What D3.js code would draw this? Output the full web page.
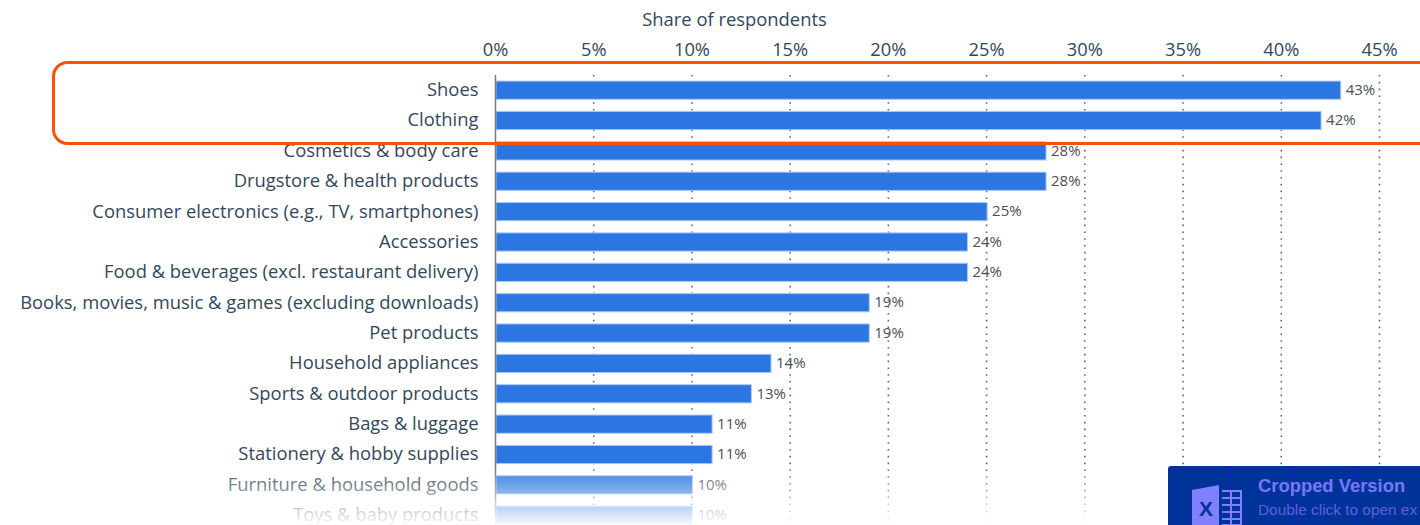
<!DOCTYPE html>
<html>
<head>
<meta charset="utf-8">
<script src="https://cdn.jsdelivr.net/npm/d3@7"></script>
<style>
  html, body { margin: 0; padding: 0; background: #fff; overflow: hidden; }
  text { font-family: "Open Sans", sans-serif; }
</style>
</head>
<body>
<div id="chart"></div>
<script>
const categories = [
  "Shoes", "Clothing", "Cosmetics & body care", "Drugstore & health products",
  "Consumer electronics (e.g., TV, smartphones)", "Accessories",
  "Food & beverages (excl. restaurant delivery)",
  "Books, movies, music & games (excluding downloads)", "Pet products",
  "Household appliances", "Sports & outdoor products", "Bags & luggage",
  "Stationery & hobby supplies", "Furniture & household goods", "Toys & baby products"
];
const values = [43, 42, 28, 28, 25, 24, 24, 19, 19, 14, 13, 11, 11, 10, 10];
const xTicks = [0, 5, 10, 15, 20, 25, 30, 35, 40, 45];

const width = 1420;
const height = 525;

const svg = d3.select("#chart")
  .append("svg")
  .attr("width", width)
  .attr("height", height)
  .style("display", "block");

const x = d3.scaleLinear().domain([0, 45]).range([496, 1380]);
const y = d3.scaleBand()
  .domain(categories)
  .range([75, 530.4])
  .paddingInner(0.4)
  .paddingOuter(0.2);

// Dotted grid lines
svg.append("g")
  .selectAll("line")
  .data(xTicks.slice(1))
  .enter()
  .append("line")
  .attr("x1", d => x(d) - 0.5)
  .attr("x2", d => x(d) - 0.5)
  .attr("y1", 75)
  .attr("y2", 525)
  .attr("stroke", "#666")
  .attr("stroke-width", 1.6)
  .attr("stroke-dasharray", "1.6 5.2");

// Top axis labels only
const xAxis = d3.axisTop(x)
  .tickValues(xTicks)
  .tickFormat(d => d + "%")
  .tickSize(0);

const axisG = svg.append("g")
  .attr("transform", "translate(-1,59)")
  .call(xAxis);
axisG.select(".domain").remove();
axisG.selectAll("text")
  .attr("font-size", 18.3)
  .attr("dy", 0)
  .attr("fill", "#33475b")
  .style("font-family", '"Open Sans", sans-serif');

svg.append("text")
  .attr("x", 734.5)
  .attr("y", 25.5)
  .attr("text-anchor", "middle")
  .attr("font-size", 18.4)
  .attr("fill", "#33475b")
  .text("Share of respondents");

// Bars
svg.append("g")
  .selectAll("rect")
  .data(categories)
  .enter()
  .append("rect")
  .attr("x", x(0))
  .attr("y", d => y(d))
  .attr("width", (d, i) => x(values[i]) - x(0))
  .attr("height", y.bandwidth())
  .attr("fill", "#2b76e0")
  .attr("stroke", "#a9c8f3")
  .attr("stroke-width", 1);

// Value labels
svg.append("g")
  .selectAll("text")
  .data(categories)
  .enter()
  .append("text")
  .attr("x", (d, i) => x(values[i]) + 5)
  .attr("y", d => y(d) + y.bandwidth() / 2 - 0.5)
  .attr("dy", "0.35em")
  .attr("font-size", 15)
  .attr("fill", "#4a4f57")
  .text((d, i) => values[i] + "%");

// Category labels
svg.append("g")
  .selectAll("text")
  .data(categories)
  .enter()
  .append("text")
  .attr("x", 478.5)
  .attr("y", d => y(d) + y.bandwidth() / 2 - 0.5)
  .attr("dy", "0.35em")
  .attr("text-anchor", "end")
  .attr("font-size", 18.4)
  .attr("fill", "#33475b")
  .text(d => d);

// Vertical base line
svg.append("line")
  .attr("x1", 495.5)
  .attr("x2", 495.5)
  .attr("y1", 75)
  .attr("y2", 525)
  .attr("stroke", "#777")
  .attr("stroke-width", 1.5);

// White fade at the bottom
const defs = svg.append("defs");
const fade = defs.append("linearGradient")
  .attr("id", "fade")
  .attr("x1", 0).attr("x2", 0).attr("y1", 0).attr("y2", 1);
fade.append("stop").attr("offset", "0%").attr("stop-color", "#fff").attr("stop-opacity", 0);
fade.append("stop").attr("offset", "100%").attr("stop-color", "#fff").attr("stop-opacity", 1);

svg.append("rect")
  .attr("x", 0)
  .attr("y", 465)
  .attr("width", width)
  .attr("height", 62)
  .attr("fill", "url(#fade)");

// Orange highlight box, runs off the right edge
svg.append("rect")
  .attr("x", 53.5)
  .attr("y", 62.5)
  .attr("width", 1420)
  .attr("height", 81)
  .attr("rx", 14)
  .attr("fill", "none")
  .attr("stroke", "#ff4f00")
  .attr("stroke-width", 3);

// Excel "cropped version" badge
const badge = svg.append("g");
badge.append("path")
  .attr("d", "M1168 525 V469 Q1168 466 1171 466 H1420 V525 Z")
  .attr("fill", "#003399");
[1231, 1294, 1356].forEach(v => {
  badge.append("line")
    .attr("x1", v).attr("x2", v)
    .attr("y1", 466).attr("y2", 525)
    .attr("stroke", "#1a1ad0")
    .attr("stroke-width", 1);
});
badge.append("path")
  .attr("d", "M1192 490 L1219 485 L1219 525 L1192 525 Z")
  .attr("fill", "#8080ff");
badge.append("text")
  .attr("x", 1206)
  .attr("y", 516)
  .attr("text-anchor", "middle")
  .attr("font-size", 21)
  .attr("font-weight", 700)
  .attr("fill", "#003399")
  .style("font-family", '"Liberation Sans", sans-serif')
  .text("X");
badge.append("path")
  .attr("d", "M1222 491 H1241 V525 H1222 M1222 498 H1241 M1222 505 H1241 M1222 512 H1241 M1222 519 H1241 M1231 491 V525")
  .attr("fill", "none")
  .attr("stroke", "#8080ff")
  .attr("stroke-width", 2);
badge.append("text")
  .attr("x", 1258)
  .attr("y", 492)
  .attr("font-size", 18.4)
  .attr("font-weight", 700)
  .attr("fill", "#7878f5")
  .style("font-family", '"Liberation Sans", sans-serif')
  .text("Cropped Version");
badge.append("text")
  .attr("x", 1258)
  .attr("y", 515)
  .attr("font-size", 15.4)
  .attr("fill", "#5f5fe0")
  .style("font-family", '"Liberation Sans", sans-serif')
  .text("Double click to open ex");
</script>
</body>
</html>
